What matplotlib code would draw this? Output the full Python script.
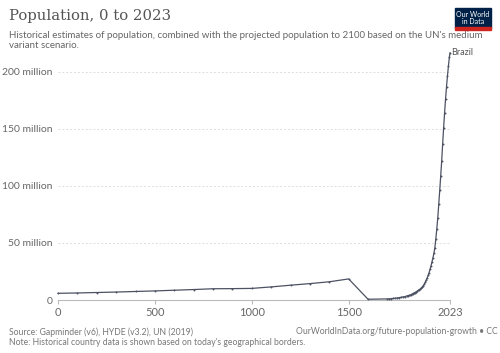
import matplotlib.pyplot as plt
from matplotlib.patches import Rectangle

# Brazil population estimates (millions)
years = [0, 100, 200, 300, 400, 500, 600, 700, 800, 900, 1000, 1100, 1200,
         1300, 1400, 1500, 1600, 1700, 1710, 1720, 1730, 1740, 1750, 1760,
         1770, 1780, 1790, 1800, 1805, 1810, 1815, 1820, 1825, 1830, 1835,
         1840, 1845, 1850, 1855, 1860, 1865, 1870, 1875, 1880, 1885, 1890,
         1895, 1900, 1905, 1910, 1915, 1920, 1925, 1930, 1935, 1940, 1945,
         1950, 1955, 1960, 1965, 1970, 1975, 1980, 1985, 1990, 1995, 2000,
         2005, 2010, 2015, 2020, 2023]
population = [5.9, 6.2, 6.6, 7.0, 7.5, 8.0, 8.6, 9.2, 9.9, 10.0, 10.2, 11.5,
              13.0, 14.4, 16.0, 18.5, 0.7, 1.0, 1.1, 1.25, 1.4, 1.6, 1.8,
              2.1, 2.4, 2.7, 3.0, 3.6, 3.8, 4.0, 4.2, 4.5, 5.0, 5.5, 6.0,
              6.5, 6.9, 7.3, 7.9, 8.5, 9.1, 9.8, 10.6, 11.5, 12.6, 13.8,
              15.5, 17.4, 19.3, 21.5, 24.0, 27.0, 30.0, 33.5, 37.0, 41.0,
              46.0, 53.9, 62.5, 72.2, 84.0, 96.0, 108.5, 121.7, 136.4, 150.7,
              163.9, 175.9, 186.9, 196.4, 205.2, 213.2, 216.4]

yticks = [0, 50, 100, 150, 200]
ytick_labels = ["0", "50 million", "100 million", "150 million", "200 million"]
xticks = [0, 500, 1000, 1500, 2023]

plt.rcParams["font.family"] = ["Lato", "DejaVu Sans"]
grey = "#666666"
line_col = "#4d5263"

fig = plt.figure(figsize=(5, 3.53), dpi=100)
ax = fig.add_axes([0.116, 0.150, 0.784, 0.700])

ax.plot(years, population, color=line_col, lw=0.9, marker="o", ms=1.4,
        mew=0, clip_on=False, zorder=3)

ax.set_xlim(0, 2023)
ax.set_ylim(0, 216.4)
ax.set_yticks(yticks)
ax.set_yticklabels(ytick_labels)
ax.set_xticks(xticks)
ax.tick_params(axis="y", length=0, labelsize=7.5, labelcolor=grey, pad=4)
ax.tick_params(axis="x", length=3, color="#bbbbbb", labelsize=8,
               labelcolor=grey, pad=2)
for s in ["top", "right", "left"]:
    ax.spines[s].set_visible(False)
ax.spines["bottom"].set_color("#bbbbbb")
ax.grid(axis="y", color="#dddddd", ls=(0, (2, 2)), lw=0.7)
ax.set_axisbelow(True)

ax.text(2030, 216.4, "Brazil", fontsize=6.5, color="#555555",
        va="center", ha="left")

fig.text(0.018, 0.955, "Population, 0 to 2023", family="DejaVu Serif",
         fontsize=10.7, color="#555555", va="center")
fig.text(0.018, 0.912,
         "Historical estimates of population, combined with the projected "
         "population to 2100 based on the UN's medium\nvariant scenario.",
         fontsize=7, color=grey, va="top", linespacing=1.15)

# logo
fig.patches.append(Rectangle((0.910, 0.922), 0.072, 0.056,
                             transform=fig.transFigure, color="#002147",
                             zorder=5))
fig.patches.append(Rectangle((0.910, 0.916), 0.072, 0.007,
                             transform=fig.transFigure, color="#ce261e",
                             zorder=5))
fig.text(0.946, 0.950, "Our World\nin Data", fontsize=5, color="white",
         ha="center", va="center", linespacing=1.0, zorder=6)

fig.text(0.018, 0.060, "Source: Gapminder (v6), HYDE (v3.2), UN (2019)",
         fontsize=6.2, color="#777777", va="center")
fig.text(0.018, 0.031,
         "Note: Historical country data is shown based on today's "
         "geographical borders.",
         fontsize=6.2, color="#777777", va="center")
fig.text(0.996, 0.060, "OurWorldInData.org/future-population-growth \u2022 CC",
         fontsize=6.2, color="#777777", va="center", ha="right")

fig.savefig("out.png", dpi=100)
